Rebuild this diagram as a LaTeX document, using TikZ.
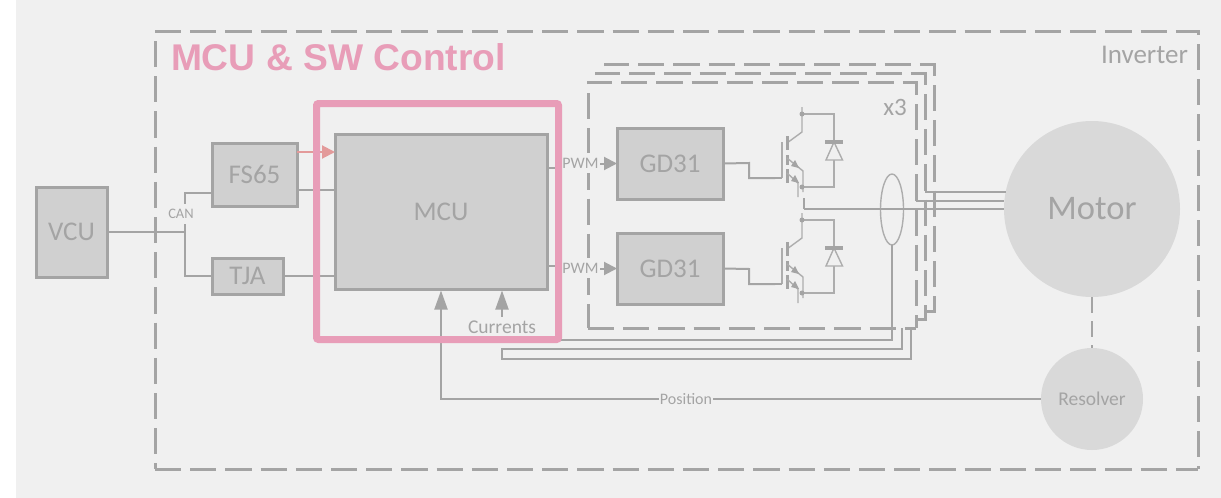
\documentclass[tikz,border=0pt]{standalone}
\usepackage{fontspec}
\setmainfont{Carlito}
\newfontfamily\titlefont{Liberation Sans}
\usetikzlibrary{arrows.meta,calc,shapes.geometric}
\definecolor{bgc}{HTML}{F0F0F0}
\definecolor{boxc}{HTML}{D0D0D0}
\definecolor{linec}{HTML}{A4A4A4}
\definecolor{txtc}{HTML}{A4A4A4}
\definecolor{pinkc}{HTML}{E89DB8}
\definecolor{redc}{HTML}{E39A9A}
\definecolor{circc}{HTML}{D9D9D9}
\tikzset{
  x=1pt,y=-1pt,
  every node/.style={inner sep=0pt,outer sep=0pt,text=txtc},
  block/.style={draw=linec,fill=boxc,line width=3pt,font=\fontsize{27}{30}\selectfont,anchor=center},
  wire/.style={draw=linec,line width=2pt},
  thin wire/.style={draw=linec!90,line width=1.4pt},
  framedash/.style={draw=linec,line width=3pt,dash pattern=on 26.2pt off 9pt},
  tip/.style={-{Triangle[length=13pt,width=13pt]}},
  longtip/.style={-{Triangle[length=19pt,width=13pt]}},
  small/.style={font=\fontsize{16}{18}\selectfont,fill=bgc,inner xsep=1pt,minimum height=20pt},
}
\newcommand{\igbt}[2]{%
\begin{scope}[shift={(#1,#2)}]
  \draw[thin wire] (802,107) -- (802,132) -- (787,143);
  \draw[thin wire] (782,142) -- (782,178);
  \draw[wire] (775,178) -- (782,178);
  \draw[draw=linec,line width=3pt] (787,136) -- (787,150) (787,155) -- (787,165) (787,169) -- (787,183);
  \draw[thin wire] (787,158) -- (803,171) -- (803,192);
  \draw[thin wire] (787,173) -- (798,183) -- (798,197);
  \fill[linec] (799,168) -- (791,166) -- (795,160) -- cycle;
  \fill[linec] (799,183) -- (791,181) -- (795,175) -- cycle;
  \draw[thin wire] (802,114) -- (834,114) -- (834,187) -- (802,187);
  \fill[linec] (802,114) circle (2.5pt) (802,187) circle (2.5pt);
  \draw[thin wire,fill=bgc] (834,142) -- (826,160) -- (842.5,160) -- cycle;
  \draw[draw=linec,line width=3.5pt] (825,142) -- (843,142);
\end{scope}}
\begin{document}
\begin{tikzpicture}
\useasboundingbox (0,0) rectangle (1221,498);
\fill[white] (0,0) rectangle (1221,498);
\fill[bgc] (16,0) rectangle (1221,498);

% frames
\draw[framedash] (605,66) -- (605,64) -- (934,64) -- (934,311) -- (925,311);
\draw[framedash] (596,75) -- (596,73) -- (925,73) -- (925,319) -- (916,319);
\draw[framedash] (588,84) -- (588,82) -- (916,82) -- (916,328);
\draw[framedash] (588,93) -- (588,328);
\draw[framedash] (588,328) -- (916,328);
\draw[framedash] (155,31) -- (1198,31) -- (1198,469);
\draw[framedash] (155,41) -- (155,469);
\draw[framedash] (155,469) -- (1198,469);

% nodes
\node[circle,fill=circc,minimum size=176pt,font=\fontsize{34.5}{36}\selectfont] (motor) at (1092,209) {Motor};
\node[circle,fill=circc,minimum size=102pt,font=\fontsize{19.5}{22}\selectfont] (resolver) at (1092,399) {Resolver};
\node[block,minimum width=71pt,minimum height=90pt] (vcu) at (71.5,232) {VCU};
\node[block,minimum width=85pt,minimum height=63pt] (fs) at (254.5,174.5) {FS65};
\node[block,minimum width=71pt,minimum height=36pt] (tja) at (247.5,276) {TJA};
\node[block,minimum width=212pt,minimum height=155pt] (mcu) at (441,212) {MCU};
\node[block,minimum width=106pt,minimum height=71pt] (gda) at (670,163.5) {GD31};
\node[block,minimum width=106pt,minimum height=71pt] (gdb) at (670,268.5) {GD31};
\node[draw=linec!90,line width=1.4pt,ellipse,minimum width=23pt,minimum height=71pt] (ct) at (892,209.5) {};
\node[font=\fontsize{25}{28}\selectfont,anchor=center] (xthree) at (895,107) {x3};
\node[font=\fontsize{27}{30}\selectfont,anchor=center] (inv) at (1144.5,55) {Inverter};
\coordinate (j) at (185,232);
\coordinate (pw) at (804,209);
\coordinate (pa) at (804,198);
\coordinate (wb) at (916,201);
\coordinate (wc) at (925,192);
\coordinate (mc) at (1006,192);

% transistors
\igbt{0}{0}
\igbt{0}{106}

% connectors
\draw[wire] (vcu.east) -- (j);
\draw[wire] (j) -- (j |- 0,193) -- (fs.west |- 0,193);
\draw[wire] (j) -- (j |- tja.west) -- (tja.west);
\node[small,font=\fontsize{14.5}{16}\selectfont] (can) at (181,214) {CAN};
\draw[wire] (fs.east |- 0,190) -- (mcu.west |- 0,190);
\draw[wire] (tja.east) -- (mcu.west |- tja.east);
\draw[draw=redc,line width=2pt,tip] (fs.east |- 0,152) -- (mcu.west |- 0,152);
\draw[wire] (mcu.east |- 0,168) -- (565,168);
\draw[wire] (mcu.east |- 0,266) -- (565,266);
\draw[wire,tip] (590,163.5) -- (gda.west);
\draw[wire,tip] (590,268.5) -- (gdb.west);
\node[small] (pwma) at (580.5,163) {PWM};
\node[small] (pwmb) at (580.5,268) {PWM};
\draw[wire] (gda.east) -- (749,163) -- (749,178) -- (775,178);
\draw[wire] (gdb.east) -- (749,269) -- (749,284) -- (775,284);
\draw[wire] (pa) -- (pw);
\draw[wire] (pw) -- (motor.west |- pw);
\draw[wire] (wb) -- (motor.west |- wb);
\draw[wire] (wc) -- (mc);
\draw[wire] (ct.south) -- (892,340) -- (560,340);
\draw[wire] (902,328) -- (902,349) -- (502,349) -- (502,359) -- (911,359) -- (911,328);
\draw[wire,longtip] (502,340) -- (502,290.5);
\node[small,font=\fontsize{19.5}{22}\selectfont] (cur) at (502,327) {Currents};
\draw[wire,longtip] (resolver.west) -- (441,399) -- (441,290.5);
\node[small] (pos) at (686,399) {Position};
\draw[framedash,line width=2pt,dash pattern=on 16pt off 8pt] (motor.south) -- (resolver.north);

% highlight
\draw[draw=pinkc,line width=7pt,rounded corners=2pt] (316.5,103.5) rectangle (558.5,339.5);
\node[text=pinkc,font=\titlefont\bfseries\fontsize{37.2}{40}\selectfont,anchor=west] (title) at (171,57) {MCU \& SW Control};
\end{tikzpicture}
\end{document}
